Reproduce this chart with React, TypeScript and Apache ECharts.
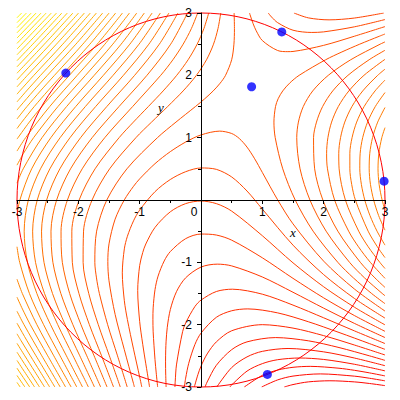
import React, { useEffect, useRef } from "react";
import * as echarts from "echarts";

// ---- contour pieces (x, y in plot units) ----
const lv01 = [[1.358,-3],[1.5,-2.961],[1.75,-2.918],[2.102,-2.9],[2.5,-2.918],[2.75,-2.944],[3,-2.978]];
const lv02 = [[0.989,-3],[1.25,-2.886],[1.5,-2.825],[1.946,-2.79],[2.5,-2.826],[2.75,-2.86],[3,-2.901]];
const lv03 = [[0.706,-3],[1,-2.813],[1.25,-2.728],[1.5,-2.684],[1.781,-2.669],[2.25,-2.699],[2.5,-2.732],[2.75,-2.774],[3,-2.822]];
const lv04 = [[0.467,-3],[0.75,-2.745],[1,-2.625],[1.25,-2.562],[1.607,-2.535],[2,-2.558],[2.5,-2.635],[3,-2.741]];
const lv05 = [[0.257,-3],[0.5,-2.688],[0.75,-2.517],[1,-2.428],[1.419,-2.382],[2,-2.436],[2.5,-2.535],[3,-2.658]];
const lv06 = [[0.066,-3],[0.1,-2.92],[0.25,-2.652],[0.5,-2.401],[0.75,-2.276],[1.218,-2.207],[1.75,-2.259],[2.25,-2.367],[2.75,-2.501],[3,-2.573]];
const lv07 = [[-0.109,-3],[-0.05,-2.8],[0,-2.666],[0.1,-2.47],[0.25,-2.276],[0.5,-2.098],[1,-2],[1.5,-2.055],[2,-2.176],[2.5,-2.326],[3,-2.486]];
const lv08 = [[-0.272,-3],[-0.25,-2.858],[-0.2,-2.62],[-0.1,-2.32],[0,-2.136],[0.25,-1.882],[0.5,-1.777],[0.763,-1.747],[1.25,-1.811],[1.75,-1.953],[2.25,-2.125],[2.75,-2.305],[3,-2.396]];
const lv09 = [[-0.425,-3],[-0.42,-2.906],[-0.4,-2.646],[-0.3,-2.112],[-0.25,-1.972],[-0.1,-1.71],[0,-1.606],[0.25,-1.468],[0.512,-1.431],[1,-1.511],[1.5,-1.686],[2,-1.89],[2.5,-2.099],[3,-2.303]];
const lv10 = [[-0.569,-3],[-0.575,-2.813],[-0.578,-2.597],[-0.575,-2.404],[-0.569,-2.265],[-0.55,-2.042],[-0.5,-1.757],[-0.4,-1.471],[-0.25,-1.248],[0,-1.076],[0.265,-1.029],[0.5,-1.057],[1,-1.235],[1.5,-1.48],[2,-1.735],[2.5,-1.979],[3,-2.207]];
const lv11 = [[-0.707,-3],[-0.73,-2.774],[-0.75,-2.561],[-0.78,-2.115],[-0.784,-1.913],[-0.78,-1.731],[-0.75,-1.439],[-0.7,-1.221],[-0.6,-0.978],[-0.5,-0.827],[-0.25,-0.62],[0,-0.546],[0.25,-0.562],[0.5,-0.644],[1,-0.927],[1.5,-1.257],[2,-1.57],[2.5,-1.853],[3,-2.107]];
const lv12a = [[-0.839,-3],[-0.85,-2.929],[-0.9,-2.628],[-0.95,-2.315],[-1,-1.948],[-1.032,-1.453],[-1,-1.052],[-0.95,-0.843],[-0.9,-0.706],[-0.75,-0.44],[-0.5,-0.189],[-0.25,-0.058],[0,-0.016],[0.25,-0.058],[0.5,-0.178],[1,-0.573],[1.5,-1.008],[2,-1.392],[2.5,-1.719],[3,-2.003]];
const lv12b = [[1.516,3],[1.75,2.922],[2.088,2.89],[2.5,2.919],[2.98,3]];
const lv13a = [[-0.965,-3],[-1,-2.838],[-1.1,-2.393],[-1.2,-1.918],[-1.25,-1.616],[-1.283,-1.169],[-1.25,-0.784],[-1.2,-0.582],[-1.1,-0.334],[-1,-0.162],[-0.75,0.134],[-0.5,0.329],[-0.25,0.454],[0,0.514],[0.25,0.492],[0.5,0.37],[0.75,0.144],[1,-0.146],[1.5,-0.724],[2,-1.197],[2.5,-1.578],[3,-1.895]];
const lv13b = [[1.096,3],[1.15,2.936],[1.25,2.845],[1.5,2.724],[1.806,2.688],[2,2.697],[2.5,2.778],[3,2.895]];
const lv14a = [[-1.086,-3],[-1.1,-2.947],[-1.25,-2.402],[-1.4,-1.836],[-1.5,-1.296],[-1.519,-0.988],[-1.5,-0.704],[-1.4,-0.307],[-1.25,0.002],[-1.1,0.22],[-1,0.339],[-0.75,0.583],[-0.5,0.776],[-0.25,0.93],[0,1.044],[0.305,1.105],[0.5,1.067],[0.625,0.986],[0.75,0.849],[0.875,0.661],[1,0.442],[1.25,0.002],[1.5,-0.383],[2,-0.981],[2.5,-1.427],[3,-1.782]];
const lv14b = [[0.791,3],[0.8,2.971],[0.85,2.828],[0.9,2.715],[1,2.558],[1.25,2.398],[1.416,2.38],[1.5,2.383],[2,2.481],[2.5,2.627],[3,2.782]];
const lv15a = [[0.54,3],[0.545,2.75],[0.537,2.5],[0.5,2.25],[0.4,2],[0.313,1.875],[0.199,1.75],[0.062,1.625],[-0.09,1.5],[-0.408,1.25],[-0.71,1],[-1.208,0.5],[-1.536,0],[-1.702,-0.5],[-1.731,-1],[-1.704,-1.25],[-1.657,-1.5],[-1.522,-2],[-1.361,-2.5],[-1.203,-3]];
const lv15b = [[3,2.663],[2.902,2.625],[2.588,2.5],[2.297,2.375],[2.032,2.25],[1.6,2],[1.445,1.875],[1.333,1.75],[1.258,1.625],[1.215,1.5],[1.189,1.25],[1.21,1],[1.333,0.5],[1.536,0],[1.828,-0.5],[2.231,-1],[2.485,-1.25],[2.782,-1.5],[3,-1.663]];
const lv16a = [[0.322,3],[0.277,2.75],[0.204,2.5],[0.09,2.25],[-0.075,2],[-0.291,1.75],[-0.543,1.5],[-0.806,1.25],[-1.061,1],[-1.49,0.5],[-1.776,0],[-1.915,-0.5],[-1.922,-1],[-1.83,-1.5],[-1.675,-2],[-1.494,-2.5],[-1.316,-3]];
const lv16b = [[3,2.536],[2.921,2.5],[2.441,2.25],[2.075,2],[1.822,1.75],[1.668,1.5],[1.588,1.25],[1.561,1],[1.615,0.5],[1.776,0],[2.04,-0.5],[2.422,-1],[2.667,-1.25],[2.955,-1.5],[3,-1.536]];
const lv17a = [[0.126,3],[0.047,2.75],[-0.063,2.5],[-0.21,2.25],[-0.396,2],[-0.617,1.75],[-0.858,1.5],[-1.102,1.25],[-1.335,1],[-1.727,0.5],[-1.987,0],[-2.106,-0.5],[-2.098,-1],[-1.99,-1.5],[-1.82,-2],[-1.621,-2.5],[-1.426,-3]];
const lv17b = [[3,2.402],[2.741,2.25],[2.396,2],[2.148,1.75],[1.983,1.5],[1.883,1.25],[1.835,1],[1.853,0.5],[1.987,0],[2.231,-0.5],[2.598,-1],[2.836,-1.25],[3,-1.402]];
const lv18a = [[-0.054,3],[-0.157,2.75],[-0.291,2.5],[-0.458,2.25],[-0.657,2],[-1.114,1.5],[-1.569,1],[-1.937,0.5],[-2.178,0],[-2.282,-0.5],[-2.261,-1],[-2.141,-1.5],[-1.957,-2],[-1.743,-2.5],[-1.532,-3]];
const lv18b = [[3,2.257],[2.657,2],[2.411,1.75],[2.239,1.5],[2.129,1.25],[2.069,1],[2.048,0.75],[2.062,0.5],[2.178,0],[2.407,-0.5],[2.567,-0.75],[2.761,-1],[3,-1.257]];
const lv19a = [[-0.22,3],[-0.494,2.5],[-0.881,2],[-1.336,1.5],[-1.775,1],[-2.127,0.5],[-2.354,0],[-2.446,-0.5],[-2.415,-1],[-2.285,-1.5],[-2.089,-2],[-1.862,-2.5],[-1.636,-3]];
const lv19b = [[3,2.099],[2.881,2],[2.637,1.75],[2.461,1.5],[2.344,1.25],[2.275,1],[2.246,0.75],[2.252,0.5],[2.354,0],[2.571,-0.5],[2.726,-0.75],[2.915,-1],[3,-1.099]];
const lv20a = [[-0.376,3],[-0.679,2.5],[-1.082,2],[-1.535,1.5],[-1.963,1],[-2.301,0.5],[-2.517,0],[-2.6,-0.5],[-2.56,-1],[-2.421,-1.5],[-2.215,-2],[-1.976,-2.5],[-1.737,-3]];
const lv20b = [[3,1.924],[2.838,1.75],[2.66,1.5],[2.538,1.25],[2.463,1],[2.427,0.75],[2.427,0.5],[2.457,0.25],[2.517,0],[2.725,-0.5],[2.875,-0.75],[3,-0.924]];
const lv21a = [[-0.523,3],[-0.85,2.5],[-1.265,2],[-1.717,1.5],[-2.136,1],[-2.464,0.5],[-2.67,0],[-2.745,-0.5],[-2.698,-1],[-2.551,-1.5],[-2.336,-2],[-2.086,-2.5],[-1.836,-3]];
const lv21b = [[3,1.724],[2.842,1.5],[2.716,1.25],[2.636,1],[2.595,0.75],[2.589,0.5],[2.615,0.25],[2.67,0],[2.755,-0.25],[2.87,-0.5],[3,-0.724]];
const lv22a = [[-0.663,3],[-1.01,2.5],[-1.434,2],[-1.885,1.5],[-2.297,1],[-2.617,0.5],[-2.815,0],[-2.883,-0.5],[-2.83,-1],[-2.676,-1.5],[-2.453,-2],[-2.194,-2.5],[-1.932,-3]];
const lv22b = [[3,1.484],[2.881,1.25],[2.797,1],[2.752,0.75],[2.742,0.5],[2.763,0.25],[2.815,0],[2.896,-0.25],[3,-0.484]];
const lv23a = [[-0.797,3],[-1.16,2.5],[-1.592,2],[-2.042,1.5],[-2.448,1],[-2.761,0.5],[-2.953,0],[-3,-0.25]];
const lv23b = [[-3,-0.75],[-2.956,-1],[-2.797,-1.5],[-2.566,-2],[-2.298,-2.5],[-2.026,-3]];
const lv23c = [[3,1.161],[2.948,1],[2.9,0.75],[2.886,0.5],[2.904,0.25],[2.953,0],[3,-0.161]];
const lv24a = [[-0.924,3],[-1.302,2.5],[-1.741,2],[-2.191,1.5],[-2.592,1],[-2.899,0.5],[-3,0.27]];
const lv24b = [[-3,-1.27],[-2.913,-1.5],[-2.676,-2],[-2.4,-2.5],[-2.118,-3]];
const lv25a = [[-1.047,3],[-1.438,2.5],[-1.883,2],[-2.332,1.5],[-2.729,1],[-2.893,0.75],[-3,0.559]];
const lv25b = [[-3,-1.559],[-2.911,-1.75],[-2.783,-2],[-2.499,-2.5],[-2.208,-3]];
const lv26a = [[-1.166,3],[-1.567,2.5],[-2.017,2],[-2.466,1.5],[-2.859,1],[-3,0.785]];
const lv26b = [[-3,-1.785],[-2.886,-2],[-2.595,-2.5],[-2.296,-3]];
const lv27a = [[-1.28,3],[-1.692,2.5],[-2.146,2],[-2.374,1.75],[-2.594,1.5],[-2.799,1.25],[-3,0.977]];
const lv27b = [[-3,-1.977],[-2.987,-2],[-2.842,-2.25],[-2.69,-2.5],[-2.383,-3]];
const lv28a = [[-1.391,3],[-1.812,2.5],[-2.27,2],[-2.498,1.75],[-2.718,1.5],[-2.922,1.25],[-3,1.147]];
const lv28b = [[-3,-2.147],[-2.938,-2.25],[-2.782,-2.5],[-2.625,-2.75],[-2.468,-3]];
const lv29a = [[-1.498,3],[-1.927,2.5],[-2.389,2],[-2.618,1.75],[-2.837,1.5],[-3,1.3]];
const lv29b = [[-3,-2.3],[-2.873,-2.5],[-2.712,-2.75],[-2.551,-3]];
const lv30a = [[-1.603,3],[-2.04,2.5],[-2.505,2],[-2.733,1.75],[-2.952,1.5],[-3,1.442]];
const lv30b = [[-3,-2.442],[-2.962,-2.5],[-2.798,-2.75],[-2.633,-3]];
const lv31a = [[-1.705,3],[-2.148,2.5],[-2.616,2],[-2.845,1.75],[-3,1.574]];
const lv31b = [[-3,-2.574],[-2.882,-2.75],[-2.714,-3]];
const lv32a = [[-1.804,3],[-2.254,2.5],[-2.725,2],[-2.954,1.75],[-3,1.698]];
const lv32b = [[-3,-2.698],[-2.793,-3]];
const lv33a = [[-1.901,3],[-2.357,2.5],[-2.83,2],[-3,1.815]];
const lv33b = [[-3,-2.815],[-2.872,-3]];
const lv34a = [[-1.996,3],[-2.457,2.5],[-2.932,2],[-3,1.927]];
const lv34b = [[-3,-2.927],[-2.949,-3]];
const lv35 = [[-3,2.034],[-2.554,2.5],[-2.088,3]];
const lv36 = [[-3,2.137],[-2.65,2.5],[-2.179,3]];
const lv37 = [[-3,2.235],[-2.743,2.5],[-2.268,3]];
const lv38 = [[-3,2.33],[-2.834,2.5],[-2.355,3]];
const lv39 = [[-3,2.422],[-2.924,2.5],[-2.44,3]];
const lv40 = [[-3,2.512],[-2.524,3]];
const lv41 = [[-3,2.598],[-2.607,3]];
const lv42 = [[-3,2.683],[-2.688,3]];
const lv43 = [[-3,2.765],[-2.768,3]];
const lv44 = [[-3,2.845],[-2.846,3]];
const lv45 = [[-3,2.924],[-2.924,3]];

const levelCount = 45;
const contourPieces: [number, number[][]][] = [
  [1, lv01], [2, lv02], [3, lv03], [4, lv04], [5, lv05], [6, lv06], [7, lv07], [8, lv08],
  [9, lv09], [10, lv10], [11, lv11], [12, lv12a], [12, lv12b], [13, lv13a], [13, lv13b],
  [14, lv14a], [14, lv14b], [15, lv15a], [15, lv15b], [16, lv16a], [16, lv16b],
  [17, lv17a], [17, lv17b], [18, lv18a], [18, lv18b], [19, lv19a], [19, lv19b],
  [20, lv20a], [20, lv20b], [21, lv21a], [21, lv21b], [22, lv22a], [22, lv22b],
  [23, lv23a], [23, lv23b], [23, lv23c], [24, lv24a], [24, lv24b], [25, lv25a], [25, lv25b],
  [26, lv26a], [26, lv26b], [27, lv27a], [27, lv27b], [28, lv28a], [28, lv28b],
  [29, lv29a], [29, lv29b], [30, lv30a], [30, lv30b], [31, lv31a], [31, lv31b],
  [32, lv32a], [32, lv32b], [33, lv33a], [33, lv33b], [34, lv34a], [34, lv34b],
  [35, lv35], [36, lv36], [37, lv37], [38, lv38], [39, lv39], [40, lv40], [41, lv41],
  [42, lv42], [43, lv43], [44, lv44], [45, lv45],
];

// constraint circle (center x, center y, radius)
const constraintCircle = [[0, 0, 3]];
// extreme points on the circle and the interior critical point
const boundaryPoints = [[-2.204, 2.036], [1.317, 2.696], [2.985, 0.302], [1.082, -2.798]];
const interiorPoints = [[0.825, 1.817]];
const axisMin = -3;
const axisMax = 3;
const axisStep = 1;

const tickFont = "'Liberation Sans', Arial, sans-serif";

// plot rectangle in the 400x400 picture
const gridLeft = 17;
const gridTop = 13;
const gridRight = 15;
const gridBottom = 13;
const plotW = 400 - gridLeft - gridRight;
const plotH = 400 - gridTop - gridBottom;

function levelColor(k: number) {
  const g = Math.round((255 * k) / (levelCount + 1));
  return `rgb(255,${g},0)`;
}

function buildOption(): any {
  const contourSeries = contourPieces.map(([k, pts]) => ({
    type: "line",
    data: pts,
    symbol: "none",
    showSymbol: false,
    smooth: 0.3,
    silent: true,
    animation: false,
    lineStyle: { color: levelColor(k), width: 1 },
    z: 2,
  }));
  // move each axis (line, ticks and labels) from the grid edge to the other axis' zero
  const xAxisOffset = -plotH * ((0 - axisMin) / (axisMax - axisMin));
  const yAxisOffset = -plotW * ((0 - axisMin) / (axisMax - axisMin));
  return {
    animation: false,
    backgroundColor: "#ffffff",
    grid: {
      left: gridLeft,
      right: gridRight,
      top: gridTop,
      bottom: gridBottom,
      containLabel: false,
      outerBounds: { left: -200, top: -200, right: -200, bottom: -200 },
    },
    xAxis: {
      type: "value",
      position: "bottom",
      offset: xAxisOffset,
      min: axisMin,
      max: axisMax,
      interval: axisStep,
      z: 10,
      axisLine: { show: true, onZero: false, lineStyle: { color: "#000", width: 1 } },
      axisTick: { show: true, length: 4, lineStyle: { color: "#000", width: 1 } },
      minorTick: { show: true, splitNumber: 2, length: 3, lineStyle: { color: "#000", width: 1 } },
      splitLine: { show: false },
      axisLabel: {
        show: true,
        margin: 6,
        color: "#000",
        fontSize: 12,
        fontFamily: tickFont,
        showMinLabel: true,
        showMaxLabel: true,
        hideOverlap: false,
        formatter: (v: number) => (v === 0 ? "{z|0}" : String(v)),
        rich: { z: { padding: [0, 14, 0, 0], fontSize: 12, fontFamily: tickFont, color: "#000" } },
      },
    },
    yAxis: {
      type: "value",
      position: "left",
      offset: yAxisOffset,
      min: axisMin,
      max: axisMax,
      interval: axisStep,
      z: 10,
      axisLine: { show: true, onZero: false, lineStyle: { color: "#000", width: 1 } },
      axisTick: { show: true, length: 4, lineStyle: { color: "#000", width: 1 } },
      minorTick: { show: true, splitNumber: 2, length: 3, lineStyle: { color: "#000", width: 1 } },
      splitLine: { show: false },
      axisLabel: {
        show: true,
        margin: 9,
        color: "#000",
        fontSize: 12,
        fontFamily: tickFont,
        showMinLabel: true,
        showMaxLabel: true,
        hideOverlap: false,
        formatter: (v: number) => (v === 0 ? "" : String(v)),
      },
    },
    graphic: [
      {
        type: "text",
        x: 293,
        y: 232,
        z: 20,
        style: {
          text: "x",
          font: "italic 13px 'Liberation Serif', serif",
          fill: "#000",
          textAlign: "center",
          textVerticalAlign: "middle",
          align: "center",
          verticalAlign: "middle",
        },
      },
      {
        type: "text",
        x: 161,
        y: 107,
        z: 20,
        style: {
          text: "y",
          font: "italic 13px 'Liberation Serif', serif",
          fill: "#000",
          textAlign: "center",
          textVerticalAlign: "middle",
          align: "center",
          verticalAlign: "middle",
        },
      },
    ],
    series: [
      ...contourSeries,
      {
        type: "custom",
        coordinateSystem: "cartesian2d",
        data: constraintCircle,
        silent: true,
        clip: false,
        z: 4,
        renderItem: (_params: any, api: any) => {
          const c = api.coord([api.value(0), api.value(1)]);
          const s = api.size([api.value(2), api.value(2)]);
          return {
            type: "ellipse",
            shape: { cx: c[0], cy: c[1], rx: s[0], ry: s[1] },
            style: { fill: "none", stroke: "#ff0000", lineWidth: 1 },
          };
        },
      },
      {
        type: "scatter",
        data: [...boundaryPoints, ...interiorPoints],
        symbol: "circle",
        symbolSize: 9,
        silent: true,
        itemStyle: { color: "#0000ff" },
        z: 6,
      },
    ],
  };
}

export default function App() {
  const ref = useRef<HTMLDivElement>(null);
  useEffect(() => {
    document.body.style.margin = "0";
    if (!ref.current) return;
    const chart = echarts.init(ref.current, undefined, { renderer: "svg" });
    chart.setOption(buildOption());
    return () => {
      chart.dispose();
    };
  }, []);
  return (
    <div
      ref={ref}
      style={{ position: "absolute", left: 0, top: 0, width: 400, height: 400, background: "#ffffff" }}
    />
  );
}
